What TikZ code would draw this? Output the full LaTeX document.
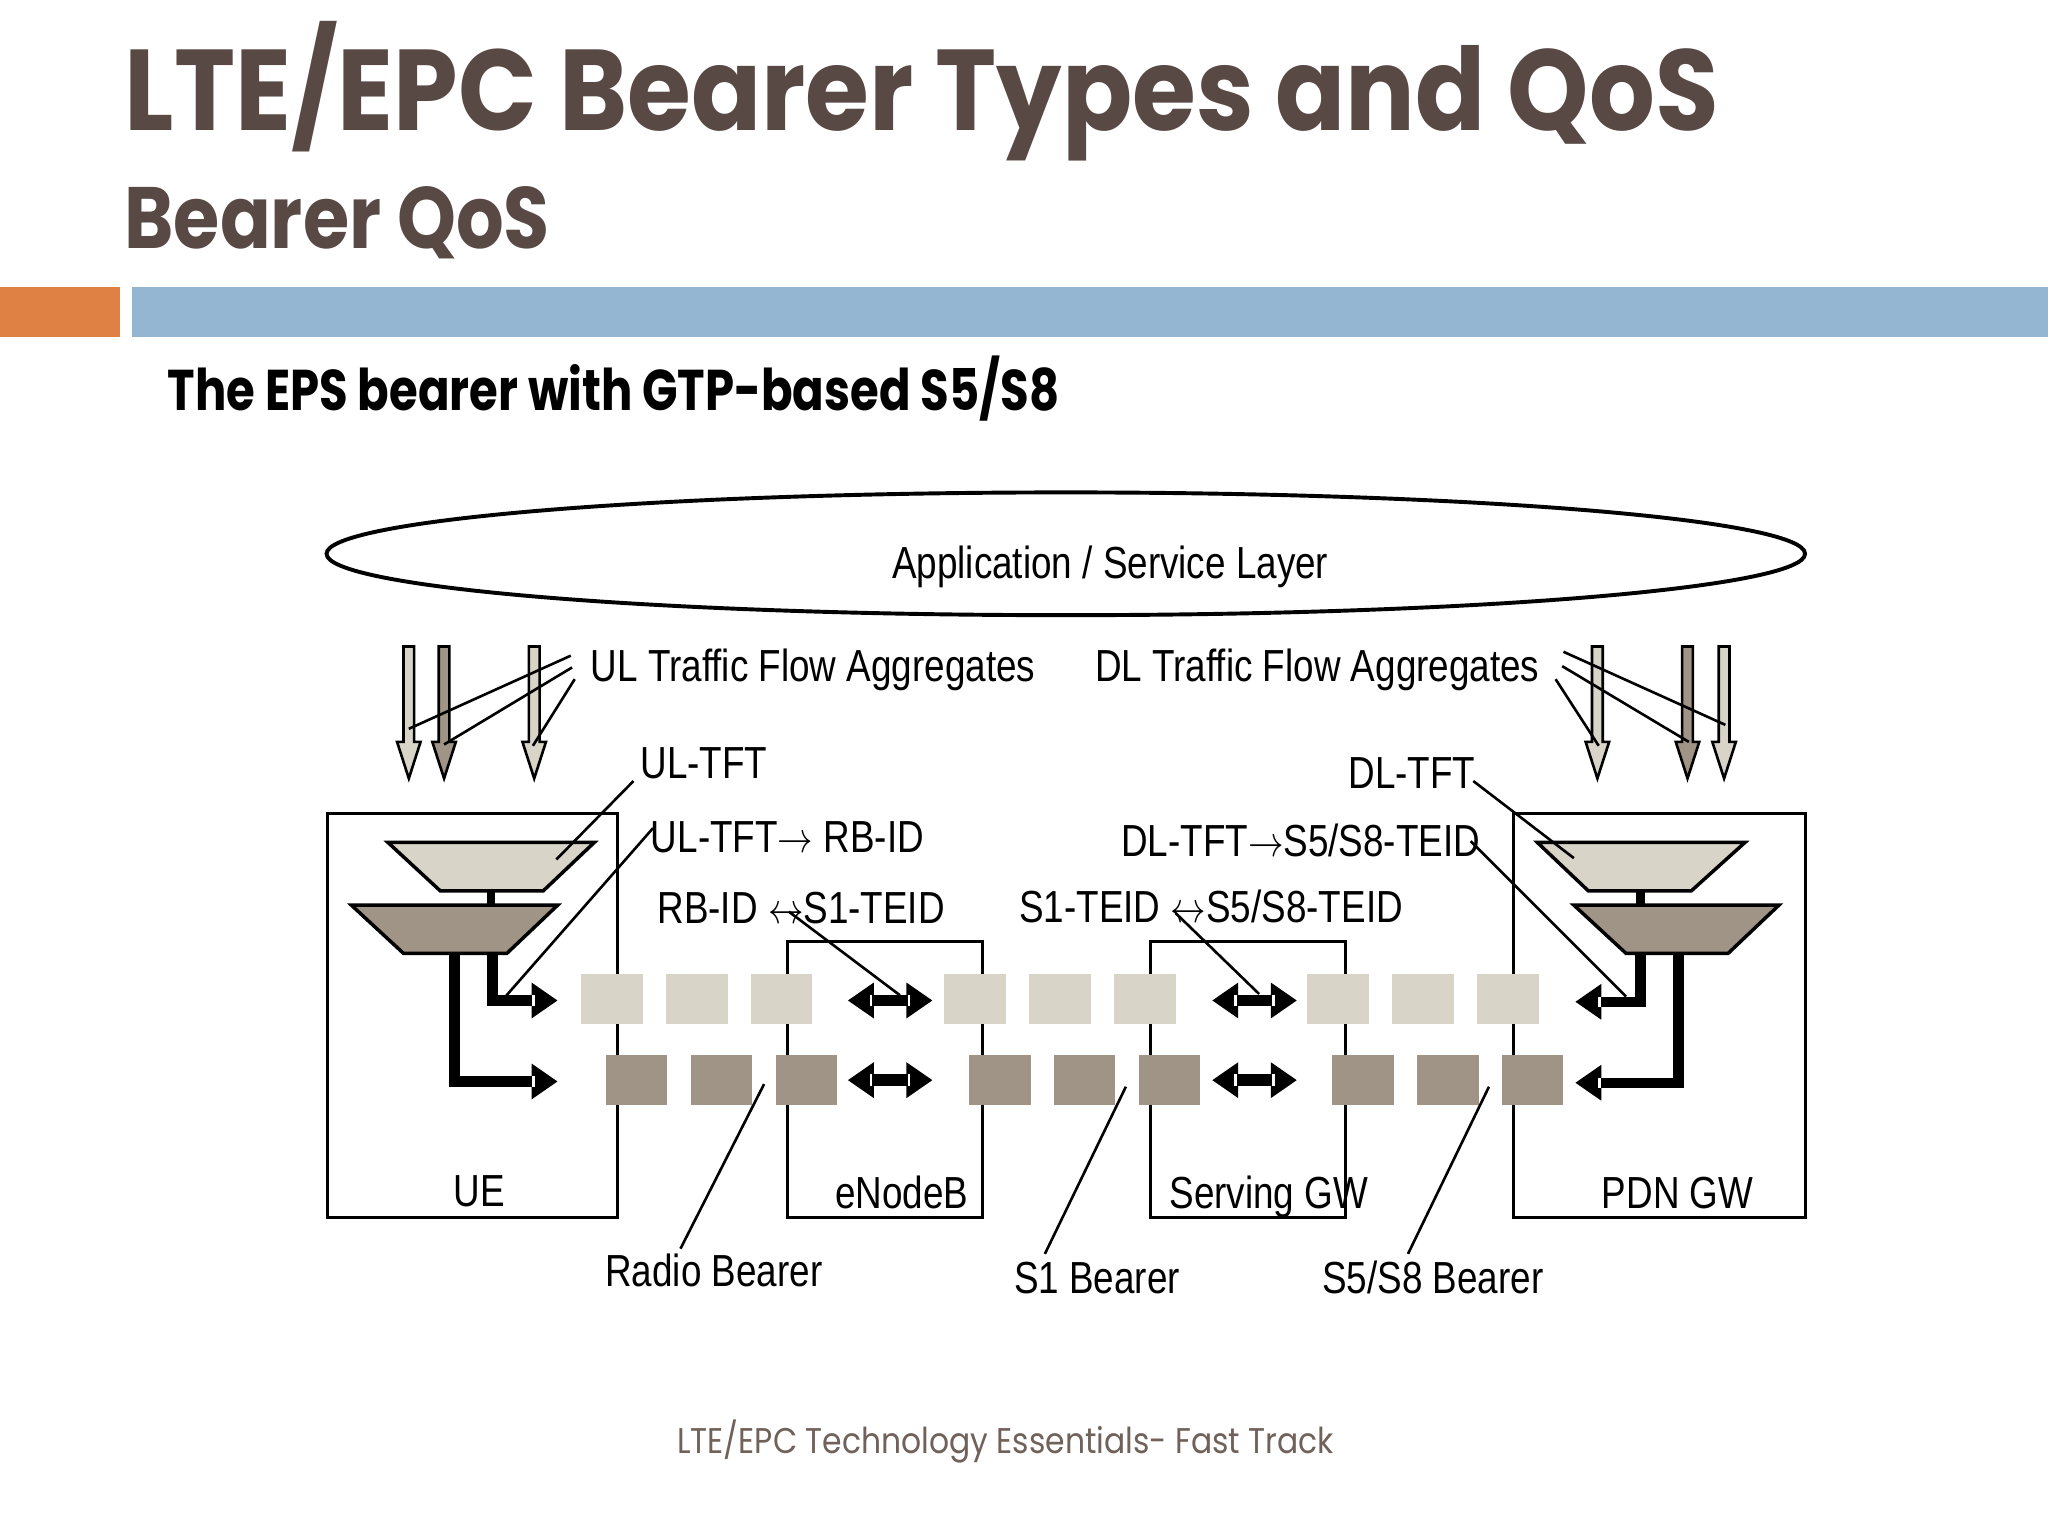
\documentclass[tikz,border=0pt]{standalone}
\usepackage{fontspec}
\usepackage{tikz}
\tikzset{every picture/.style={line width=0.75pt}}
\usetikzlibrary{arrows.meta}
\newfontfamily\arialfont{Liberation Sans}
\newfontfamily\slidefont{Poppins}
\definecolor{titlebrown}{RGB}{88,73,68}
\definecolor{footbrown}{RGB}{112,98,90}
\definecolor{barorange}{RGB}{223,128,69}
\definecolor{barblue}{RGB}{148,182,210}
\definecolor{flowlight}{RGB}{217,212,200}
\definecolor{flowdark}{RGB}{160,148,134}
\tikzset{
  slidetitle/.style={font=\slidefont\bfseries\fontsize{66}{70}\selectfont, text=titlebrown, xscale=0.9, inner sep=0pt, anchor=base west},
  slidesub/.style={font=\slidefont\bfseries\fontsize{50}{56}\selectfont, text=titlebrown, xscale=0.86, inner sep=0pt, anchor=base west},
  subhead/.style={font=\slidefont\bfseries\fontsize{33}{38}\selectfont, xscale=0.81, inner sep=0pt, anchor=base west},
  footer/.style={font=\slidefont\fontsize{20.5}{24}\selectfont, text=footbrown, xscale=0.88, inner sep=0pt, anchor=base west},
  lbl/.style={font=\arialfont\fontsize{25.8}{30}\selectfont, xscale=0.82, inner sep=0pt, anchor=base west},
  netbox/.style={draw, line width=1.75pt},
  leader/.style={draw, line width=1.5pt},
  filter/.style={draw, line width=2pt},
  flowarrow/.style={draw, line width=1.5pt},
  fatline/.style={line width=6pt, -{Triangle[length=15pt,width=19.5pt]}},
  fatboth/.style={line width=6.75pt, {Triangle[length=15pt,width=19.5pt]}-{Triangle[length=15pt,width=19.5pt]}},
  notch/.style={white, line width=1.5pt},
}
\begin{document}
\begin{tikzpicture}[x=0.75pt,y=0.75pt,yscale=-1]
\useasboundingbox (0,0) rectangle (1568,1176);
\fill[white] (0,0) rectangle (1568,1176);

% Slide header
\node[slidetitle] (ttl) at (95,100) {LTE/EPC Bearer Types and QoS};
\node[slidesub] (sub) at (95,190) {Bearer QoS};
\fill[barorange] (0,220) rectangle (92,258);
\fill[barblue] (101,220) rectangle (1568,258);
\node[subhead] (head) at (128,314) {The EPS bearer with GTP-based S5/S8};

% Application layer
\draw[line width=2.25pt] (816,424) ellipse (566 and 47);
\node[lbl, anchor=base] (app) at (850,443) {Application / Service Layer};

% Text Nodes
\node[lbl] (ulagg) at (452,522) {UL Traffic Flow Aggregates};
\node[lbl] (dlagg) at (838,522) {DL Traffic Flow Aggregates};
\node[lbl] (ultft) at (490,596) {UL-TFT};
\node[lbl] (dltft) at (1032,604) {DL-TFT};
\node[lbl] (ulmap) at (498,653) {UL-TFT$\rightarrow$ RB-ID};
\node[lbl] (dlmap) at (858,656) {DL-TFT$\rightarrow$S5/S8-TEID};
\node[lbl] (rbmap) at (503,707) {RB-ID $\leftrightarrow$S1-TEID};
\node[lbl] (s1map) at (780,706) {S1-TEID $\leftrightarrow$S5/S8-TEID};

% Traffic flow arrows
\foreach \x/\c in {313/flowlight,340/flowdark,409/flowlight,1223/flowlight,1292/flowdark,1320/flowlight}
  \draw[flowarrow, fill=\c] (\x-4.1,495) -- (\x+4.1,495) -- (\x+4.1,568) -- (\x+9,568) -- (\x,596) -- (\x-9,568) -- (\x-4.1,568) -- cycle;

% Network elements
\draw[netbox] (251,623) rectangle (473,932);
\draw[netbox] (603,721) rectangle (752,932);
\draw[netbox] (881,721) rectangle (1030,932);
\draw[netbox] (1159,623) rectangle (1382,932);
\node[lbl, anchor=base] (uelbl) at (367,924) {UE};
\node[lbl] (enblbl) at (639,925) {eNodeB};
\node[lbl] (sgwlbl) at (895,925) {Serving GW};
\node[lbl] (pgwlbl) at (1226,925) {PDN GW};

% UE filters
\draw[line width=5pt] (376,680) -- (376,695);
\draw[filter, fill=flowlight] (297,645) -- (455,645) -- (416,682) -- (337,682) -- cycle;
\draw[filter, fill=flowdark] (269,693) -- (427,693) -- (388,730) -- (309,730) -- cycle;
% PDN GW filters
\draw[line width=5pt] (1256,680) -- (1256,695);
\draw[filter, fill=flowlight] (1177,645) -- (1336,645) -- (1295,682) -- (1216,682) -- cycle;
\draw[filter, fill=flowdark] (1205,693) -- (1362,693) -- (1323,730) -- (1245,730) -- cycle;

% Filter outputs
\coordinate (ueT0) at (377,731); \coordinate (ueT1) at (427,766);
\coordinate (ueB0) at (348,731); \coordinate (ueB1) at (427,828);
\coordinate (pgT0) at (1256,731); \coordinate (pgT1) at (1206,767);
\coordinate (pgB0) at (1285,731); \coordinate (pgB1) at (1206,829);
\draw[fatline] (ueT0) |- (ueT1);
\draw[fatline] (ueB0) |- (ueB1);
\draw[fatline] (pgT0) |- (pgT1);
\draw[fatline] (pgB0) |- (pgB1);
\draw[notch] (408.5,762) -- (408.5,770);
\draw[notch] (408.5,824) -- (408.5,832);
\draw[notch] (1224.5,763) -- (1224.5,771);
\draw[notch] (1224.5,825) -- (1224.5,833);

% Bearer packets
\foreach \g in {0,1,2}
  \foreach \i in {0,1,2} {
    \fill[flowlight] ({445+278*\g+65*\i},746) rectangle +(47,38);
    \fill[flowdark] ({464+278*\g+65*\i},808) rectangle +(47,38);
  }

% Bearer binding
\coordinate (enbL1) at (649,766); \coordinate (enbR1) at (714,766);
\coordinate (enbL2) at (649,827); \coordinate (enbR2) at (714,827);
\coordinate (sgwL1) at (928,766); \coordinate (sgwR1) at (993,766);
\coordinate (sgwL2) at (928,827); \coordinate (sgwR2) at (993,827);
\draw[fatboth] (enbL1) -- (enbR1);
\draw[fatboth] (enbL2) -- (enbR2);
\draw[fatboth] (sgwL1) -- (sgwR1);
\draw[fatboth] (sgwL2) -- (sgwR2);
\foreach \x in {667,696,946,975} {
  \draw[notch] (\x,761.5) -- (\x,770.5);
  \draw[notch] (\x,822.5) -- (\x,831.5);
}

% Leader lines
\coordinate (ulaggA) at (437,502); \coordinate (ulflowA) at (313,558);
\coordinate (ulaggB) at (438,511); \coordinate (ulflowB) at (340,570);
\coordinate (ulaggC) at (440,520); \coordinate (ulflowC) at (408,571);
\coordinate (dlaggA) at (1197,499); \coordinate (dlflowA) at (1321,555);
\coordinate (dlaggB) at (1196,510); \coordinate (dlflowB) at (1293,568);
\coordinate (dlaggC) at (1191,520); \coordinate (dlflowC) at (1224,571);
\coordinate (ultftA) at (485,598); \coordinate (ultftB) at (426,658);
\coordinate (ulmapA) at (500,634); \coordinate (ulmapB) at (387,763);
\coordinate (rbmapA) at (604,698); \coordinate (rbmapB) at (689,762);
\coordinate (dltftA) at (1128,598); \coordinate (dltftB) at (1205,657);
\coordinate (dlmapA) at (1126,644); \coordinate (dlmapB) at (1245,763);
\coordinate (s1mapA) at (900,699); \coordinate (s1mapB) at (964,761);
\coordinate (rbA) at (585,830); \coordinate (rbB) at (521,956);
\coordinate (s1A) at (862,832); \coordinate (s1B) at (800,960);
\coordinate (s58A) at (1140,832); \coordinate (s58B) at (1078,960);
\draw[leader] (ulaggA) -- (ulflowA);
\draw[leader] (ulaggB) -- (ulflowB);
\draw[leader] (ulaggC) -- (ulflowC);
\draw[leader] (dlaggA) -- (dlflowA);
\draw[leader] (dlaggB) -- (dlflowB);
\draw[leader] (dlaggC) -- (dlflowC);
\draw[leader] (ultftA) -- (ultftB);
\draw[leader] (ulmapA) -- (ulmapB);
\draw[leader] (rbmapA) -- (rbmapB);
\draw[leader] (dltftA) -- (dltftB);
\draw[leader] (dlmapA) -- (dlmapB);
\draw[leader] (s1mapA) -- (s1mapB);
\draw[leader] (rbA) -- (rbB);
\draw[leader] (s1A) -- (s1B);
\draw[leader] (s58A) -- (s58B);

\node[lbl] (rblbl) at (463,985) {Radio Bearer};
\node[lbl] (s1lbl) at (776,990) {S1 Bearer};
\node[lbl] (s58lbl) at (1012,990) {S5/S8 Bearer};

% Footer
\node[footer] (foot) at (518,1113) {LTE/EPC Technology Essentials- Fast Track};
\end{tikzpicture}
\end{document}
